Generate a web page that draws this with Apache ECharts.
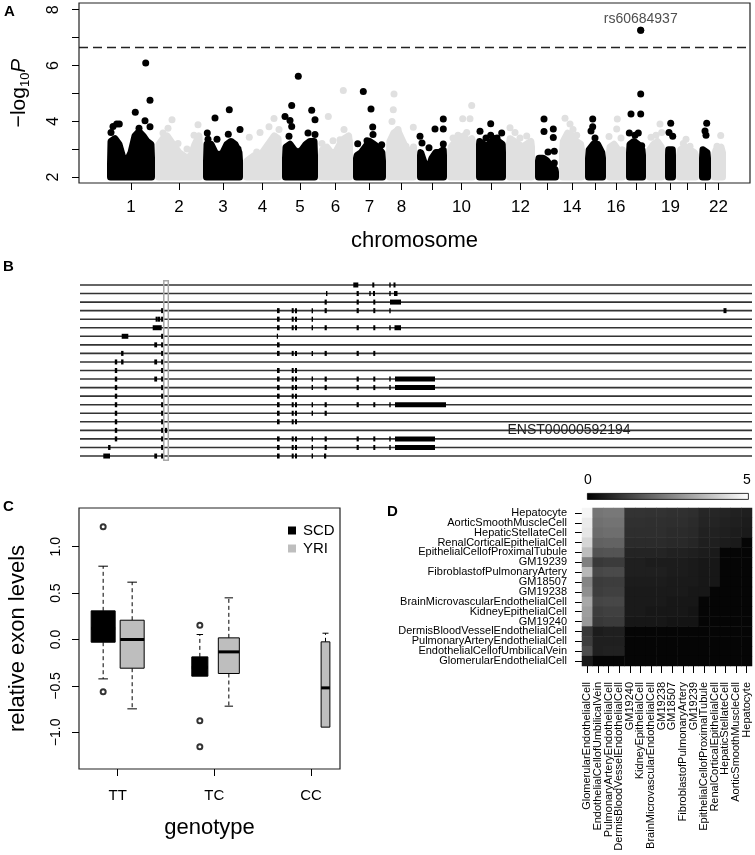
<!DOCTYPE html>
<html><head><meta charset="utf-8">
<script src="https://cdn.jsdelivr.net/npm/echarts@6/dist/echarts.min.js"></script>
<style>html,body{margin:0;padding:0;background:#fff}#main{width:755px;height:855px}</style>
</head><body><div id="main"></div>
<script>
const FONT = '"Liberation Sans", Arial, Helvetica, sans-serif';

// ---------- Panel A: Manhattan plot ----------
const chromSizes = [48,48,40,39,36,35,33,31,30,29,30,29,24,26,21,20,20,19,11,23,12,15];
const chromTickLabels = ['1','2','3','4','5','6','7','8','','10','','12','','14','','16','','','19','','','22'];
// top of the dense mass of points, sampled evenly across each chromosome (-log10 P)
const envTop = [
 [2.6,3.4,3.5,3.3,2.8,2.7,3.0,3.6,3.75,3.6,3.4,3.3,2.8],
 [2.9,3.3,3.5,3.6,3.4,3.2,3.0,2.9,2.8,2.9,3.3,3.6,3.0],
 [2.7,3.3,3.3,3.0,2.9,3.0,3.3,3.4,3.3,3.0,2.7],
 [2.6,2.7,2.8,2.9,2.9,3.0,3.2,3.4,3.6,3.5,2.8],
 [2.8,3.2,3.3,3.1,3.0,3.1,3.3,3.4,3.4,2.9],
 [2.9,3.1,3.2,3.0,3.0,3.3,3.5,3.6,3.3],
 [2.8,2.9,3.0,3.2,3.4,3.3,3.2,3.0,2.7],
 [3.0,3.4,3.7,3.8,3.5,3.2,3.0,3.1,3.2],
 [2.9,3.0,2.6,2.4,2.8,3.0,3.0,3.1,2.9],
 [3.0,3.2,3.4,3.5,3.6,3.4,3.5,3.3],
 [3.3,3.4,3.3,3.2,3.4,3.5,3.4,3.3,3.0],
 [3.3,3.5,3.4,3.3,3.2,3.3,3.4,3.2],
 [2.7,2.8,2.8,2.7,2.5,2.4,2.3],
 [3.0,3.4,3.7,3.6,3.4,3.3,3.1],
 [2.8,3.1,3.3,3.3,3.0,2.8],
 [3.0,3.2,3.3,3.1,3.0,3.1],
 [3.0,3.3,3.4,3.3,3.1,2.9],
 [3.0,3.1,3.3,3.4,3.2,3.0],
 [2.9,3.1,3.1,2.9],
 [2.9,3.1,3.2,3.1,3.0,2.9],
 [2.8,3.1,3.0,2.8],
 [2.9,3.1,3.2,3.0]
];
// individual SNPs standing out: [chromosome, cumulative position, -log10 P]
const snpPoints = [
 [1,6,3.81],[1,9.7,3.9],[1,12.3,3.9],[1,28.3,4.32],[1,38,4.02],[1,43,3.8],[1,38.7,6.09],[1,43,4.75],[1,4,3.6],[1,32,3.75],
 [2,56,3.58],[2,65,4.05],[2,91,3.87],[2,80,3.0],[2,61,3.75],[2,71,3.2],[2,87,3.5],
 [3,100.3,3.58],[3,101,3.35],[3,108,4.12],[3,110,3.35],[3,122.3,4.41],[3,121.3,3.53],[3,133,3.7],[3,131,3.0],
 [4,142.3,3.43],[4,153,3.6],[4,162,3.8],[4,167,4.1],[4,149.7,2.9],[4,172,3.7],
 [5,191.3,5.61],[5,184.7,4.56],[5,178,4.17],[5,183,4.03],[5,204.7,4.39],[5,208,4.05],[5,184.7,3.81],[5,182,3.46],[5,208,3.52],[5,201,3.58],[5,206,3.25],
 [6,236.3,5.1],[6,221.3,4.17],[6,233,3.34],[6,237,3.7],[6,215,3.2],[6,242,3.3],[6,226,3.3],
 [7,256.3,5.07],[7,264,4.44],[7,265.7,3.79],[7,250.7,3.19],[7,266,3.52],[7,274.7,3.16],[7,260,3.3],
 [8,287,4.98],[8,286.3,4.41],[8,285,3.99],[8,306.3,3.78],[8,299,3.1],[8,291,3.7],
 [9,313,3.46],[9,315,3.22],[9,328,3.72],[9,336.3,4.08],[9,336.3,3.72],[9,336.3,3.18],[9,322,3.05],
 [10,364.7,4.56],[10,355.7,4.09],[10,363,4.09],[10,359.7,3.6],[10,346,3.4],[10,351,3.5],
 [11,373,3.64],[11,383.7,3.91],[11,383.7,3.5],[11,394.7,3.58],[11,379,3.4],[11,390,3.4],
 [12,403,3.77],[12,419.7,3.47],[12,408,3.6],[12,413,3.4],
 [13,437,4.08],[13,437,3.63],[13,446.3,3.72],[13,446.3,3.42],[13,447.3,2.92],[13,447.3,2.5],[13,441,2.9],
 [14,458,4.11],[14,463,3.9],[14,469.7,3.5],[14,466,3.7],
 [15,485.7,4.08],[15,484,3.65],[15,485.7,3.8],[15,488,3.4],
 [16,510.3,4.08],[16,509.7,3.72],[16,502,3.45],[16,514,3.4],
 [17,533.7,7.26],[17,533.7,4.98],[17,524,4.26],[17,533.7,4.26],[17,522.3,3.58],[17,531.3,3.58],[17,534.7,3.12],[17,528,3.5],
 [18,544,3.43],[18,553,3.9],[18,554.7,3.6],[18,549,3.5],
 [19,563.7,3.93],[19,565.7,3.46],[19,562,3.6],
 [20,576.3,3.2],[20,583,3.1],[20,579,3.35],
 [21,599.7,3.93],[21,599,3.5],[21,598,3.65],
 [22,613.7,3.49],[22,610,3.1]
];
const significanceLine = 6.66;
const annotatedSnp = ['rs60684937', 533.7, 7.26];
const yTicksA = [2,3,4,5,6,7,8];
const yLabelsA = [2,4,6,8];

// ---------- Panel B: transcript models ----------
const geneWindow = [80, 752];
const exonsByTranscript = [
 [[353.3,358.3],[372.3,374.3],[389.3,390.7],[393.5,395.5]],
 [[326,327.4],[356.6,358.8],[369.3,370.7],[373,375],[389.3,390.7],[394,397.5]],
 [[324.6,326.8],[356.6,358.8],[373.3,375.3],[390,401]],
 [[161.1,163.5],[277,279.6],[291.7,293.7],[295,297],[311.6,313],[324.6,326.8],[356.6,358.8],[373.3,375.3],[389.3,390.7],[723.5,726.5]],
 [[155.6,157.8],[158,160.2],[161.1,163.5],[277,279.6],[291.7,293.7],[295,297],[311.6,313]],
 [[152.7,161.7],[277,279.6],[291.7,293.7],[295,297],[311.6,313],[324.6,326.8],[356.6,358.8],[373.3,375.3],[389.3,390.7],[394.5,401]],
 [[121.7,128.3],[161.1,163.5],[276.8,277.8]],
 [[154.3,157.1],[161.1,163.5],[277,279.6]],
 [[121.1,123.5],[161.1,163.5],[277,279.6],[291.7,293.7],[295,297],[311.6,313],[324.6,326.8],[356.6,358.8],[373.3,375.3]],
 [[114.8,117.2],[121.1,123.5],[154.3,157.1],[161.1,163.5]],
 [[114.8,117.2],[161.1,163.5],[277,279.6],[291.7,293.7],[295,297]],
 [[114.8,117.2],[154.3,157.1],[161.1,163.5],[277,279.6],[291.7,293.7],[295,297],[311.6,313],[324.6,326.8],[356.6,358.8],[373.3,375.3],[389.3,390.7],[395,435]],
 [[114.8,117.2],[161.1,163.5],[277,279.6],[291.7,293.7],[295,297],[311.6,313],[324.6,326.8],[356.6,358.8],[373.3,375.3],[389.3,390.7],[395,435]],
 [[114.8,117.2],[161.1,163.5],[277,279.6],[291.7,293.7],[295,297]],
 [[114.8,117.2],[161.1,163.5],[277,279.6],[291.7,293.7],[295,297],[311.6,313],[324.6,326.8],[356.6,358.8],[373.3,375.3],[389.3,390.7],[395,446]],
 [[114.8,117.2],[161.1,163.5],[277,279.6],[291.7,293.7],[295,297],[311.6,313],[324.6,326.8]],
 [[114.8,117.2],[161.1,163.5],[277,279.6],[291.7,293.7],[295,297]],
 [[114.8,117.2],[161.1,163.5],[165,167.2]],
 [[114.8,117.2],[161.1,163.5],[277,279.6],[291.7,293.7],[295,297],[311.6,313],[324.6,326.8],[356.6,358.8],[373.3,375.3],[389.3,390.7],[395,435]],
 [[108.1,110.5],[161.1,163.5],[277,279.6],[291.7,293.7],[295,297],[311.6,313],[324.6,326.8],[356.6,358.8],[373.3,375.3],[389.3,390.7],[395,435]],
 [[103.3,110],[154.3,157.1],[161.1,163.5],[277,279.6],[291.7,293.7],[295,297],[311.6,313],[324,326.2]]
];
const highlightedExon = [163.8, 168.3];
const transcriptLabel = ['ENST00000592194', 18];

// ---------- Panel C: boxplots ----------
const genotypes = ['TT','TC','CC'];
// [genotype index, lower whisker, Q1, median, Q3, upper whisker]
const scdStats = [[0,-0.424,-0.029,0.12,0.309,0.79],[1,-0.395,-0.395,-0.30,-0.187,0.054]];
const yriStats = [[0,-0.747,-0.309,0.0,0.208,0.618],[1,-0.718,-0.366,-0.133,0.018,0.449],[2,-0.944,-0.944,-0.521,-0.025,0.068]];
const scdN = [60, 27];
const yriN = [60, 46, 8];
const scdOutliers = [[0,1.214],[0,-0.564],[1,0.154],[1,-0.876],[1,-1.156]];
const yTicksC = [-1,-0.5,0,0.5,1];

// ---------- Panel D: heatmap ----------
const cellTypes = ['GlomerularEndothelialCell','EndothelialCellofUmbilicalVein','PulmonaryArteryEndothelialCell','DermisBloodVesselEndothelialCell','GM19240','KidneyEpithelialCell','BrainMicrovascularEndothelialCell','GM19238','GM18507','FibroblastofPulmonaryArtery','GM19239','EpithelialCellofProximalTubule','RenalCorticalEpithelialCell','HepaticStellateCell','AorticSmoothMuscleCell','Hepatocyte'];
// rows listed top (Hepatocyte) to bottom (GlomerularEndothelialCell); columns in cellTypes order
const heatValues = [
 [4.8,2.3,2.35,2.35,1.0,1.0,0.98,0.98,0.95,0.95,0.9,0.75,0.75,0.7,0.65,0.6],
 [4.6,2.2,2.25,2.25,0.95,0.95,0.93,0.93,0.9,0.9,0.85,0.7,0.7,0.65,0.6,0.55],
 [4.5,2.1,2.15,2.15,0.9,0.9,0.9,0.9,0.85,0.85,0.8,0.65,0.65,0.6,0.55,0.5],
 [4.2,1.9,1.95,1.95,0.85,0.85,0.85,0.85,0.8,0.8,0.75,0.6,0.6,0.55,0.5,0.1],
 [3.7,1.6,1.65,1.65,0.7,0.7,0.7,0.7,0.65,0.65,0.6,0.55,0.5,0.1,0.1,0.1],
 [2.5,1.1,1.15,1.15,0.6,0.6,0.55,0.55,0.55,0.55,0.5,0.45,0.45,0.1,0.1,0.1],
 [3.6,1.4,1.45,1.45,0.6,0.6,0.6,0.6,0.55,0.55,0.5,0.45,0.45,0.1,0.1,0.1],
 [2.6,1.15,1.2,1.2,0.55,0.55,0.55,0.55,0.5,0.5,0.5,0.45,0.45,0.1,0.1,0.1],
 [2.8,1.2,1.25,1.25,0.5,0.5,0.5,0.5,0.5,0.5,0.45,0.45,0.1,0.1,0.1,0.1],
 [3.3,1.35,1.4,1.4,0.5,0.5,0.5,0.5,0.45,0.45,0.45,0.1,0.1,0.1,0.1,0.1],
 [3.1,1.2,1.25,1.25,0.5,0.5,0.45,0.45,0.45,0.45,0.4,0.1,0.1,0.1,0.1,0.1],
 [3.0,1.1,1.15,1.15,0.45,0.45,0.45,0.45,0.4,0.4,0.4,0.1,0.1,0.1,0.1,0.1],
 [1.1,0.55,0.6,0.6,0.1,0.1,0.1,0.1,0.1,0.1,0.1,0.1,0.1,0.1,0.1,0.1],
 [1.2,0.6,0.6,0.6,0.1,0.1,0.1,0.1,0.1,0.1,0.1,0.1,0.1,0.1,0.1,0.1],
 [1.5,0.6,0.65,0.65,0.1,0.1,0.1,0.1,0.1,0.1,0.1,0.1,0.1,0.1,0.1,0.1],
 [0.5,0.1,0.1,0.1,0.1,0.1,0.1,0.1,0.1,0.1,0.1,0.1,0.1,0.1,0.1,0.1]
];
const colorScale = [0, 5];

// ---------- derived ----------
const chromStart = [];
chromSizes.reduce((acc, s) => { chromStart.push(acc); return acc + s; }, 0);
const chromCenters = chromSizes.map((s, i) => chromStart[i] + s / 2);
const labeledCenters = chromCenters.filter((c, i) => chromTickLabels[i] !== '');
const heatData = [];
heatValues.forEach((row, r) => { const yIdx = cellTypes.length - 1 - r; row.forEach((v, j) => heatData.push([j, yIdx, v])); });

const BLACK = '#000000', GRAY = '#e0e0e0', DOT_R = 3.5;

function renderChrom(params, api) {
  const c = api.value(2);
  const color = c % 2 === 0 ? BLACK : GRAY;
  const s = chromStart[c], len = chromSizes[c], prof = envTop[c];
  const sx = api.coord([s, 2])[0] + DOT_R, ex = api.coord([s + len, 2])[0] - DOT_R;
  const baseY = api.coord([s, 2])[1];
  const pts = [[sx, baseY]];
  prof.forEach((v, k) => {
    const p = api.coord([s + len * k / (prof.length - 1), v]);
    pts.push([Math.min(Math.max(p[0], sx), ex), p[1] + DOT_R]);
  });
  pts.push([ex, baseY]);
  const children = [{ type: 'polygon', shape: { points: pts }, style: { fill: color, stroke: color, lineWidth: DOT_R * 2, lineJoin: 'round' } }];
  snpPoints.filter(p => p[0] === c + 1).forEach(p => {
    const q = api.coord([p[1], p[2]]);
    children.push({ type: 'circle', shape: { cx: q[0], cy: q[1], r: DOT_R }, style: { fill: color } });
  });
  return { type: 'group', children };
}

function renderTranscript(params, api) {
  const row = api.value(1);
  const a = api.coord([geneWindow[0], row]), b = api.coord([geneWindow[1], row]);
  const y = a[1];
  const children = [{ type: 'line', shape: { x1: a[0], y1: y, x2: b[0], y2: y }, style: { stroke: '#333', lineWidth: 1.6 } }];
  exonsByTranscript[row - 1].forEach(e => {
    const p = api.coord([e[0], row])[0], q = api.coord([e[1], row])[0];
    children.push({ type: 'rect', shape: { x: p, y: y - 2.5, width: Math.max(q - p, 1.2), height: 5 }, style: { fill: '#000' } });
  });
  return { type: 'group', children };
}

function renderHighlight(params, api) {
  const a = api.coord([api.value(0), 0.5]), b = api.coord([api.value(1), 21.5]);
  return { type: 'rect', shape: { x: a[0], y: a[1], width: b[0] - a[0], height: b[1] - a[1] }, style: { fill: 'none', stroke: '#a8a8a8', lineWidth: 1.5 } };
}

function renderLabel(params, api) {
  const p = api.coord([569, api.value(0)]);
  return { type: 'text', style: { text: transcriptLabel[0], x: p[0], y: p[1], align: 'center', verticalAlign: 'middle', font: '14px ' + FONT, fill: '#222' } };
}

const BOX_W = 24, REF_N = 60;
function makeBoxRender(ns, offset, fill) {
  return function (params, api) {
    const g = api.value(0), lo = api.value(1), q1 = api.value(2), med = api.value(3), q3 = api.value(4), hi = api.value(5);
    const w = BOX_W * Math.sqrt(ns[params.dataIndex] / REF_N);
    const x = g + 1 + offset;
    const cx = api.coord([x, med])[0];
    const yLo = api.coord([x, lo])[1], yQ1 = api.coord([x, q1])[1], yMed = api.coord([x, med])[1], yQ3 = api.coord([x, q3])[1], yHi = api.coord([x, hi])[1];
    const ch = [];
    const cap = Math.max(w * 0.2, 3);
    if (hi > q3) {
      ch.push({ type: 'line', shape: { x1: cx, y1: yQ3, x2: cx, y2: yHi }, style: { stroke: '#000', lineWidth: 1, lineDash: [4, 3] } });
      ch.push({ type: 'line', shape: { x1: cx - cap, y1: yHi, x2: cx + cap, y2: yHi }, style: { stroke: '#000', lineWidth: 1 } });
    }
    if (lo < q1) {
      ch.push({ type: 'line', shape: { x1: cx, y1: yQ1, x2: cx, y2: yLo }, style: { stroke: '#000', lineWidth: 1, lineDash: [4, 3] } });
      ch.push({ type: 'line', shape: { x1: cx - cap, y1: yLo, x2: cx + cap, y2: yLo }, style: { stroke: '#000', lineWidth: 1 } });
    }
    ch.push({ type: 'rect', shape: { x: cx - w / 2, y: yQ3, width: w, height: yQ1 - yQ3 }, style: { fill, stroke: '#000', lineWidth: 1 } });
    ch.push({ type: 'line', shape: { x1: cx - w / 2, y1: yMed, x2: cx + w / 2, y2: yMed }, style: { stroke: '#000', lineWidth: 3 } });
    return { type: 'group', children: ch };
  };
}

const axisTxt = { color: '#000', fontFamily: FONT };
const tickStyle = { color: '#000', width: 1 };

const option = {
  animation: false,
  backgroundColor: '#fff',
  textStyle: { fontFamily: FONT },
  grid: [
    { left: 79, top: 3, width: 671, height: 180, show: true, borderColor: '#222', borderWidth: 1.2, backgroundColor: 'transparent' },
    { left: 80, top: 280.7, width: 672, height: 179.6, show: false },
    { left: 79, top: 508, width: 261, height: 261, show: true, borderColor: '#222', borderWidth: 1.2, backgroundColor: 'transparent' },
    { left: 582, top: 508, width: 170, height: 158, show: false }
  ],
  xAxis: [
    { gridIndex: 0, type: 'value', min: -28, max: 643, position: 'bottom', axisLine: { show: false, onZero: false }, splitLine: { show: false },
      axisTick: { show: true, length: 7, customValues: chromCenters, lineStyle: tickStyle },
      axisLabel: { customValues: labeledCenters, fontSize: 17, margin: 16, ...axisTxt,
        formatter: v => { const i = chromCenters.findIndex(c => Math.abs(c - v) < 0.01); return i >= 0 ? chromTickLabels[i] : ''; } },
      name: 'chromosome', nameLocation: 'middle', nameGap: 47, nameTextStyle: { fontSize: 22, ...axisTxt } },
    { gridIndex: 1, type: 'value', min: geneWindow[0], max: geneWindow[1], show: false },
    { gridIndex: 2, type: 'value', min: 0.6, max: 3.3, position: 'bottom', axisLine: { show: false, onZero: false }, splitLine: { show: false },
      axisTick: { show: true, length: 7, customValues: [1, 2, 3], lineStyle: tickStyle },
      axisLabel: { customValues: [1, 2, 3], fontSize: 15, margin: 19, ...axisTxt, formatter: v => genotypes[Math.round(v) - 1] || '' },
      name: 'genotype', nameLocation: 'middle', nameGap: 48, nameTextStyle: { fontSize: 22, ...axisTxt } },
    { gridIndex: 3, type: 'category', data: cellTypes, axisLine: { show: false }, splitLine: { show: false },
      axisTick: { show: true, alignWithLabel: true, length: 7, lineStyle: tickStyle },
      axisLabel: { rotate: 90, fontSize: 11, margin: 16, interval: 0, ...axisTxt } }
  ],
  yAxis: [
    { gridIndex: 0, type: 'value', min: 1.785, max: 8.24, position: 'left', axisLine: { show: false, onZero: false }, splitLine: { show: false },
      axisTick: { show: true, length: 7, customValues: yTicksA, lineStyle: tickStyle },
      axisLabel: { customValues: yLabelsA, rotate: 90, fontSize: 16, margin: 17, ...axisTxt },
      name: '{a|\u2212log}{s|10}{p|P}', nameLocation: 'middle', nameRotate: 90, nameGap: 47,
      nameTextStyle: { ...axisTxt, rich: { a: { fontSize: 21, lineHeight: 26, fontFamily: FONT }, s: { fontSize: 13, lineHeight: 13, verticalAlign: 'bottom', fontFamily: FONT }, p: { fontSize: 21, lineHeight: 26, fontStyle: 'italic', fontFamily: FONT } } } },
    { gridIndex: 1, type: 'value', min: 0.5, max: 21.5, inverse: true, show: false },
    { gridIndex: 2, type: 'value', min: -1.395, max: 1.417, position: 'left', axisLine: { show: false, onZero: false }, splitLine: { show: false },
      axisTick: { show: true, length: 7, customValues: yTicksC, lineStyle: tickStyle },
      axisLabel: { customValues: yTicksC, rotate: 90, fontSize: 14, margin: 16, ...axisTxt, formatter: v => v.toFixed(1).replace('-', '\u2212') },
      name: 'relative exon levels', nameLocation: 'middle', nameRotate: 90, nameGap: 50, nameTextStyle: { fontSize: 22, ...axisTxt } },
    { gridIndex: 3, type: 'category', data: cellTypes, axisLine: { show: false }, splitLine: { show: false },
      axisTick: { show: true, alignWithLabel: true, length: 7, lineStyle: tickStyle },
      axisLabel: { fontSize: 11, margin: 15, interval: 0, ...axisTxt } }
  ],
  legend: { data: ['SCD', 'YRI'], orient: 'vertical', left: 283, top: 518, icon: 'rect', itemWidth: 8, itemHeight: 8, itemGap: 3,
    selectedMode: false, textStyle: { fontSize: 15, color: '#000', fontFamily: FONT, padding: [0, 0, 0, 2] } },
  visualMap: { type: 'continuous', show: false, min: colorScale[0], max: colorScale[1], seriesIndex: 8, inRange: { color: ['#000000', '#ffffff'] } },
  graphic: [
    { type: 'text', left: 4, top: 4, style: { text: 'A', font: 'bold 15px ' + FONT, fill: '#000' } },
    { type: 'text', left: 3, top: 259, style: { text: 'B', font: 'bold 15px ' + FONT, fill: '#000' } },
    { type: 'text', left: 3, top: 499, style: { text: 'C', font: 'bold 15px ' + FONT, fill: '#000' } },
    { type: 'text', left: 387, top: 504, style: { text: 'D', font: 'bold 15px ' + FONT, fill: '#000' } },
    { type: 'rect', left: 587, top: 493, shape: { width: 161, height: 6 },
      style: { fill: new echarts.graphic.LinearGradient(0, 0, 1, 0, [{ offset: 0, color: '#000' }, { offset: 1, color: '#fff' }]), stroke: '#000', lineWidth: 0.8 } },
    { type: 'text', left: 584, top: 473, style: { text: String(colorScale[0]), font: '14px ' + FONT, fill: '#000' } },
    { type: 'text', left: 743, top: 473, style: { text: String(colorScale[1]), font: '14px ' + FONT, fill: '#000' } }
  ],
  series: [
    { type: 'custom', name: 'manhattan', xAxisIndex: 0, yAxisIndex: 0, renderItem: renderChrom,
      data: chromCenters.map((c, i) => [c, 2, i]) },
    { type: 'scatter', name: 'top SNP', xAxisIndex: 0, yAxisIndex: 0, symbolSize: 7, itemStyle: { color: '#000' },
      data: [[annotatedSnp[1], annotatedSnp[2]]],
      label: { show: true, position: 'top', distance: 1, formatter: annotatedSnp[0], fontSize: 14, color: '#222', fontFamily: FONT },
      markLine: { symbol: 'none', silent: true, label: { show: false }, lineStyle: { type: [9, 5], color: '#222', width: 1.3 }, data: [{ yAxis: significanceLine }] } },
    { type: 'custom', name: 'transcripts', xAxisIndex: 1, yAxisIndex: 1, renderItem: renderTranscript,
      data: exonsByTranscript.map((e, i) => [geneWindow[0], i + 1]) },
    { type: 'custom', name: 'highlight', xAxisIndex: 1, yAxisIndex: 1, renderItem: renderHighlight, data: [highlightedExon] },
    { type: 'custom', name: 'label', xAxisIndex: 1, yAxisIndex: 1, renderItem: renderLabel, data: [[transcriptLabel[1]]] },
    { type: 'custom', name: 'SCD', xAxisIndex: 2, yAxisIndex: 2, itemStyle: { color: '#000' }, renderItem: makeBoxRender(scdN, -0.15, '#000'), data: scdStats },
    { type: 'custom', name: 'YRI', xAxisIndex: 2, yAxisIndex: 2, itemStyle: { color: '#bebebe' }, renderItem: makeBoxRender(yriN, 0.15, '#bebebe'), data: yriStats },
    { type: 'scatter', name: 'SCD outliers', xAxisIndex: 2, yAxisIndex: 2, symbol: 'emptyCircle', symbolSize: 5,
      itemStyle: { color: '#000', borderWidth: 1 }, data: scdOutliers.map(o => [o[0] + 1 - 0.15, o[1]]) },
    { type: 'heatmap', name: 'heat', xAxisIndex: 3, yAxisIndex: 3, data: heatData, itemStyle: { borderWidth: 0 }, emphasis: { disabled: true } }
  ]
};
const chart = echarts.init(document.getElementById('main'), null, { renderer: 'canvas', width: 755, height: 855 });
chart.setOption(option);
</script></body></html>
